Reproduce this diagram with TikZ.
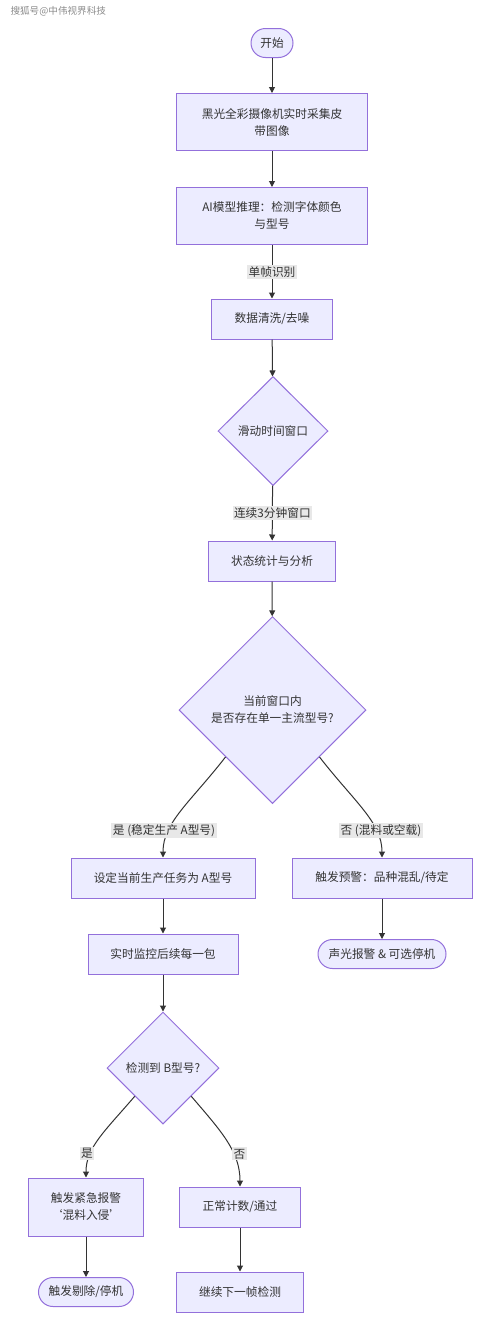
\documentclass[tikz,border=0pt]{standalone}
\usepackage{fontspec}
\setmainfont{Noto Sans CJK SC}
\usetikzlibrary{shapes.geometric}
\usetikzlibrary{arrows.meta}
\definecolor{boxfill}{HTML}{ECECFF}
\definecolor{boxline}{HTML}{9370DB}
\definecolor{ink}{HTML}{333333}
\definecolor{lblfill}{HTML}{E8E8E8}
\definecolor{markgray}{HTML}{8A8A8A}
\tikzset{
	every node/.style={font=\fontsize{11.7}{17}\selectfont},
	procbox/.style={draw=boxline, fill=boxfill, line width=1pt, text=ink, inner sep=0pt, minimum height=40pt, align=center},
	termbox/.style={procbox, rounded corners=14.5pt, minimum height=29pt},
	decbox/.style={diamond, draw=boxline, fill=boxfill, line width=1pt, text=ink, inner sep=0pt, align=center},
	flow/.style={draw=ink, line width=1pt, -{Triangle[length=6pt,width=6pt]}},
	edgelbl/.style={fill=lblfill, text=ink, inner sep=1.5pt}
}

\begin{document}
\begin{tikzpicture}[x=1pt, y=-1pt]
	% page: 500 x 1341 px, y runs downwards
	\useasboundingbox (0,0) rectangle (500,1341);
	\node[anchor=west, text=markgray, font=\fontsize{9.6}{12}\selectfont] (mark) at (7,11) {搜狐号@中伟视界科技};
	
	% main column
	\node[termbox, minimum width=42pt] (start) at (272,43) {开始};
	\node[procbox, minimum width=191pt, minimum height=57pt] (cam) at (272,122) {黑光全彩摄像机实时采集皮\\带图像};
	\node[procbox, minimum width=191pt, minimum height=57pt] (infer) at (272,216) {AI模型推理：检测字体颜色\\与型号};
	\node[procbox, minimum width=121pt] (clean) at (272,319) {数据清洗/去噪};
	\node[decbox, minimum width=110pt, minimum height=109pt] (win) at (273,431) {滑动时间窗口};
	\node[procbox, minimum width=127pt] (stat) at (272,561) {状态统计与分析};
	\node[decbox, minimum width=187pt, minimum height=187pt] (main) at (272.5,710) {当前窗口内\\是否存在单一主流型号?};
	
	% branch: stable A
	\node[procbox, minimum width=184pt] (setA) at (163,878) {设定当前生产任务为 A型号};
	\node[procbox, minimum width=150pt] (watch) at (163,954) {实时监控后续每一包};
	\node[decbox, minimum width=112pt, minimum height=112pt] (isB) at (163,1068) {检测到 B型号?};
	\node[procbox, minimum width=115pt, minimum height=58pt] (intr) at (86,1207) {触发紧急报警\\‘混料入侵’};
	\node[termbox, minimum width=95pt] (reject) at (86,1292) {触发剔除/停机};
	\node[procbox, minimum width=121pt] (count) at (240,1207) {正常计数/通过};
	\node[procbox, minimum width=127pt] (next) at (240,1292) {继续下一帧检测};
	
	% branch: mixed or empty
	\node[procbox, minimum width=180pt] (warn) at (382,878) {触发预警：品种混乱/待定};
	\node[termbox, minimum width=128pt] (alarm) at (382,954) {声光报警 \& 可选停机};
	
	% connectors
	\draw[flow] (start) -- (cam);
	\draw[flow] (cam) -- (infer);
	\draw[flow] (infer) -- node[edgelbl] {单帧识别} (clean);
	\draw[flow] (clean) -- (win);
	\draw[flow] (win) -- node[edgelbl] {连续3分钟窗口} (stat);
	\draw[flow] (stat) -- (main);
	\draw[flow] (main.south west) .. controls +(-35,45) and +(0,-35) .. node[edgelbl, pos=0.72, xshift=-5pt] {是 (稳定生产 A型号)} (setA.north);
	\draw[flow] (main.south east) .. controls +(35,45) and +(0,-35) .. node[edgelbl, pos=0.72, xshift=5pt] {否 (混料或空载)} (warn.north);
	\draw[flow] (setA) -- (watch);
	\draw[flow] (warn) -- (alarm);
	\draw[flow] (watch) -- (isB);
	\draw[flow] (isB.south west) .. controls +(-30,35) and +(0,-30) .. node[edgelbl, pos=0.7, xshift=-4pt] {是} (intr.north);
	\draw[flow] (isB.south east) .. controls +(30,35) and +(0,-35) .. node[edgelbl, pos=0.65, xshift=6pt] {否} (count.north);
	\draw[flow] (intr) -- (reject);
	\draw[flow] (count) -- (next);
\end{tikzpicture}
\end{document}
